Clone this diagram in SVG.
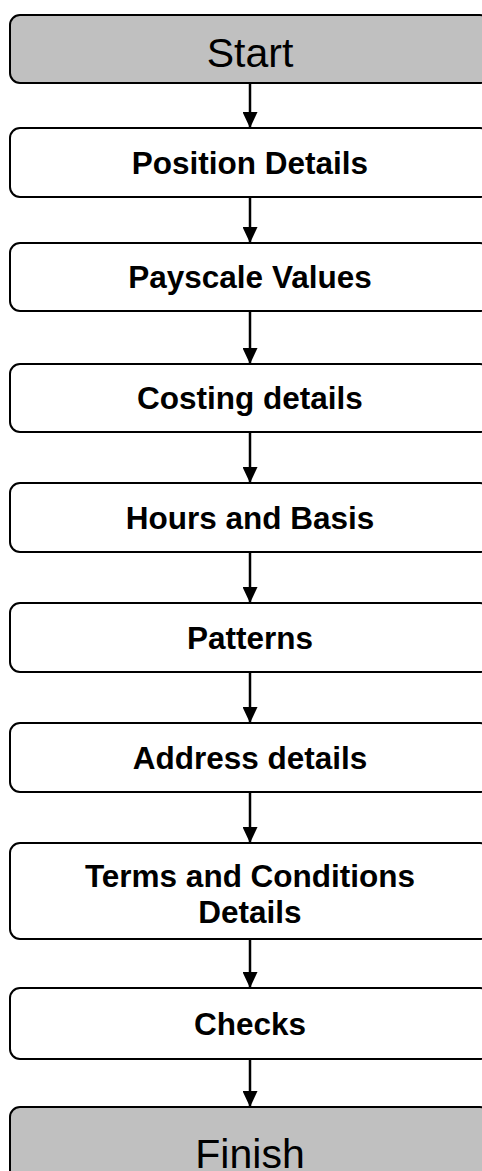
<svg xmlns="http://www.w3.org/2000/svg" width="482" height="1171" viewBox="0 0 482 1171">
<style>
.box{fill:#fff;stroke:#000;stroke-width:2}
.term{fill:#c0c0c0;stroke:#000;stroke-width:2}
.lbl{font-family:"Liberation Sans",Arial,sans-serif;font-weight:bold;font-size:31.5px;fill:#000;text-anchor:middle}
.big{font-family:"Liberation Sans",Arial,sans-serif;font-size:41px;fill:#000;text-anchor:middle}
.con{stroke:#000;stroke-width:2.5;fill:none}
</style>
<defs>
<marker id="ah" markerUnits="userSpaceOnUse" markerWidth="16" markerHeight="15" refX="16" refY="7.5" orient="auto">
<path d="M0,0 L16,7.5 L0,15 Z" fill="#000"/>
</marker>
</defs>
<g id="connectors">
<line class="con" x1="250" y1="84" x2="250" y2="128" marker-end="url(#ah)"/>
<line class="con" x1="250" y1="198" x2="250" y2="243" marker-end="url(#ah)"/>
<line class="con" x1="250" y1="312" x2="250" y2="364" marker-end="url(#ah)"/>
<line class="con" x1="250" y1="433" x2="250" y2="483" marker-end="url(#ah)"/>
<line class="con" x1="250" y1="553" x2="250" y2="603" marker-end="url(#ah)"/>
<line class="con" x1="250" y1="673" x2="250" y2="723" marker-end="url(#ah)"/>
<line class="con" x1="250" y1="793" x2="250" y2="843" marker-end="url(#ah)"/>
<line class="con" x1="250" y1="940" x2="250" y2="988" marker-end="url(#ah)"/>
<line class="con" x1="250" y1="1060" x2="250" y2="1107" marker-end="url(#ah)"/>
</g>
<g id="start"><rect class="term" x="10" y="15" width="480" height="68" rx="10"/><text class="big" x="250" y="66.5">Start</text></g>
<g id="position"><rect class="box" x="10" y="128" width="480" height="69" rx="10"/><text class="lbl" x="250" y="173.5">Position Details</text></g>
<g id="payscale"><rect class="box" x="10" y="243" width="480" height="68" rx="10"/><text class="lbl" x="250" y="288">Payscale Values</text></g>
<g id="costing"><rect class="box" x="10" y="364" width="480" height="68" rx="10"/><text class="lbl" x="250" y="409">Costing details</text></g>
<g id="hours"><rect class="box" x="10" y="483" width="480" height="69" rx="10"/><text class="lbl" x="250" y="528.5">Hours and Basis</text></g>
<g id="patterns"><rect class="box" x="10" y="603" width="480" height="69" rx="10"/><text class="lbl" x="250" y="648.5">Patterns</text></g>
<g id="address"><rect class="box" x="10" y="723" width="480" height="69" rx="10"/><text class="lbl" x="250" y="768.5">Address details</text></g>
<g id="terms"><rect class="box" x="10" y="843" width="480" height="96" rx="10"/><text class="lbl" x="250" y="886.7">Terms and Conditions</text><text class="lbl" x="250" y="923.3">Details</text></g>
<g id="checks"><rect class="box" x="10" y="988" width="480" height="71" rx="10"/><text class="lbl" x="250" y="1034.5">Checks</text></g>
<g id="finish"><rect class="term" x="10" y="1107" width="480" height="80" rx="10"/><text class="big" x="250" y="1167.5">Finish</text></g>
</svg>
